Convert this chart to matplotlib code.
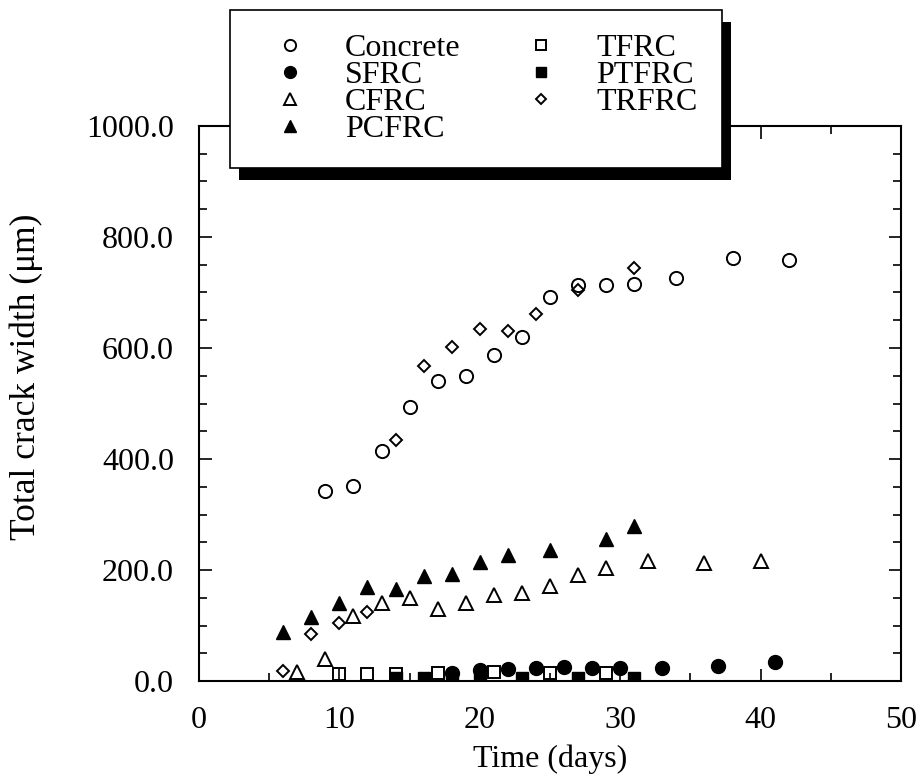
import matplotlib
matplotlib.use("Agg")
import matplotlib.pyplot as plt
from matplotlib.patches import Rectangle
from matplotlib.ticker import MultipleLocator, FormatStrFormatter

plt.rcParams['font.family'] = ['Liberation Serif', 'DejaVu Serif']

# ---- data ----
concrete_t = [9, 11, 13, 15, 17, 19, 21, 23, 25, 27, 29, 31, 34, 38, 42]
concrete_w = [343, 352, 415, 493, 540, 550, 587, 620, 691, 713, 713, 716, 727, 763, 759]

sfrc_t = [18, 20, 22, 24, 26, 28, 30, 33, 37, 41]
sfrc_w = [14, 20, 22, 24, 25, 23, 23, 23, 27, 35]

cfrc_t = [7, 9, 11, 13, 15, 17, 19, 21, 23, 25, 27, 29, 32, 36, 40]
cfrc_w = [17, 40, 118, 140, 150, 129, 141, 155, 159, 171, 191, 203, 216, 213, 216]

pcfrc_t = [6, 8, 10, 12, 14, 16, 18, 20, 22, 25, 29, 31]
pcfrc_w = [88, 115, 141, 169, 165, 189, 193, 214, 227, 236, 255, 279]

tfrc_t = [10, 12, 14, 17, 21, 25, 29]
tfrc_w = [12, 12, 13, 14, 16, 15, 15]

ptfrc_t = [14, 16, 18, 20, 23, 27, 31]
ptfrc_w = [6, 5, 5, 5, 6, 6, 6]

trfrc_t = [6, 8, 10, 12, 14, 16, 18, 20, 22, 24, 27, 31]
trfrc_w = [18, 85, 105, 125, 435, 568, 602, 634, 630, 662, 705, 745]

x_ticks = [0, 10, 20, 30, 40, 50]
y_ticks = [0, 200, 400, 600, 800, 1000]

# ---- figure ----
W, H = 922, 781
fig = plt.figure(figsize=(W / 100, H / 100), dpi=100)
ax = fig.add_axes([199 / W, 1 - 681 / H, 702 / W, 555 / H])

lw = 1.4
ax.plot(concrete_t, concrete_w, 'o', ms=9.5, mfc='none', mec='black', mew=lw, label='Concrete')
ax.plot(sfrc_t, sfrc_w, 'o', ms=10, mfc='black', mec='black', label='SFRC')
ax.plot(cfrc_t, cfrc_w, '^', ms=10, mfc='none', mec='black', mew=lw, label='CFRC')
ax.plot(pcfrc_t, pcfrc_w, '^', ms=10, mfc='black', mec='black', label='PCFRC')
ax.plot(tfrc_t, tfrc_w, 's', ms=8.5, mfc='none', mec='black', mew=lw, label='TFRC')
ax.plot(ptfrc_t, ptfrc_w, 's', ms=8.5, mfc='black', mec='black', label='PTFRC')
ax.plot(trfrc_t, trfrc_w, 'D', ms=6.5, mfc='none', mec='black', mew=lw, label='TRFRC')

ax.set_xlim(0, 50)
ax.set_ylim(0, 1000)
ax.set_xticks(x_ticks)
ax.set_yticks(y_ticks)
ax.xaxis.set_minor_locator(MultipleLocator(5))
ax.yaxis.set_minor_locator(MultipleLocator(50))
ax.yaxis.set_major_formatter(FormatStrFormatter('%.1f'))

ax.tick_params(which='both', direction='in', top=True, right=True, width=1.2)
ax.tick_params(which='major', length=9, labelsize=23, pad=18)
ax.tick_params(which='minor', length=6)
for s in ax.spines.values():
    s.set_linewidth(1.5)

ax.set_xlabel('Time (days)', fontsize=23)
ax.set_ylabel('Total crack width (μm)', fontsize=25.5)
ax.xaxis.set_label_coords(0.5, -0.115)
ax.yaxis.set_label_coords(-0.222, 0.548)

handles, labels = ax.get_legend_handles_labels()
leg = fig.legend(handles, labels, loc='upper left',
                 bbox_to_anchor=(230 / W, 1 - 10 / H), borderaxespad=0,
                 ncol=2, fontsize=23, frameon=True, fancybox=False,
                 edgecolor='black', framealpha=1, markerscale=0.85,
                 handlelength=2.25, handletextpad=0.6, columnspacing=1.4,
                 borderpad=0.75, labelspacing=-0.08)
leg.get_frame().set_linewidth(1.2)
leg.set_zorder(10)

fig.canvas.draw()
bb = leg.get_window_extent()
shadow = Rectangle((bb.x0 + 9, bb.y0 - 12), bb.width, bb.height,
                   transform=None, facecolor='black', edgecolor='none', zorder=9)
fig.add_artist(shadow)

fig.savefig('out.png', dpi=100)
